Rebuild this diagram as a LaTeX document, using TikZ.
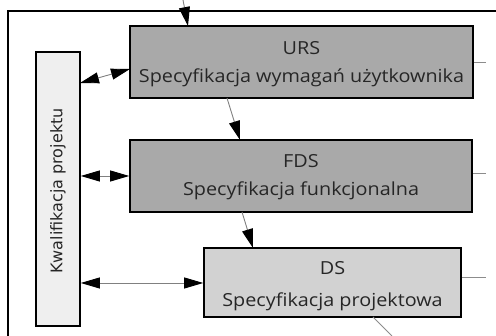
\documentclass[tikz,border=0pt]{standalone}
\usepackage{fontspec}
\setmainfont[FakeStretch=1.1]{Open Sans}
\newfontfamily\kwfont{DejaVu Sans}
\usetikzlibrary{arrows.meta}
\definecolor{ursgray}{HTML}{A9A9A9}
\definecolor{dsgray}{HTML}{D2D2D2}
\definecolor{kwgray}{HTML}{EFEFEF}
\begin{document}
\begin{tikzpicture}[x=1pt,y=1pt,
  box/.style={draw=black,line width=1.6pt,minimum height=72pt,inner sep=0pt},
  lbl/.style={anchor=base,inner sep=0pt,text=black!85,font=\fontsize{18}{22}\selectfont},
  conn/.style={draw=black!45,line width=0.9pt},
  hd/.tip={Triangle[length=19pt,width=11pt,color=black,fill=black]},
  tip/.style={-hd,draw=black!50,line width=0.9pt},
  dtip/.style={hd-hd,draw=black!50,line width=0.9pt}]
\useasboundingbox (0,0) rectangle (496,336);
% frame
\draw[line width=1.2pt] (8,0) -- (8,325) -- (496,325);
% boxes
\node[box,fill=ursgray,minimum width=343pt] (urs) at (301.5,274) {};
\node[box,fill=ursgray,minimum width=342pt] (fds) at (301,160) {};
\node[box,fill=dsgray,minimum width=257pt,minimum height=69pt] (ds) at (332.5,53.5) {};
\node[draw=black,line width=1.6pt,fill=kwgray,minimum width=44pt,minimum height=274pt,inner sep=0pt] (kw) at (58,147) {};
% labels
\node[lbl] (ursA) at ([yshift=7pt]urs.center) {URS};
\node[lbl] (ursB) at ([yshift=-21pt]urs.center) {Specyfikacja wymagań użytkownika};
\node[lbl] (fdsA) at ([yshift=8pt]fds.center) {FDS};
\node[lbl] (fdsB) at ([yshift=-20pt]fds.center) {Specyfikacja funkcjonalna};
\node[lbl] (dsA) at ([yshift=7.5pt]ds.center) {DS};
\node[lbl] (dsB) at ([yshift=-24pt]ds.center) {Specyfikacja projektowa};
\node[rotate=90,text=black!85,font=\kwfont\fontsize{16}{18}\selectfont] (kwt) at ([yshift=-2pt]kw.center) {Kwalifikacja projektu};
% coordinates
\coordinate (topin) at (183,336);
\coordinate (ursR) at (486,274);
\coordinate (fdsR) at (486,163);
\coordinate (dsR) at (486,59);
\coordinate (dsout) at (392,0);
% connectors
\draw[tip] (topin) -- (188,310);
\draw[conn] (urs.east |- ursR) -- (ursR);
\draw[conn] (fds.east |- fdsR) -- (fdsR);
\draw[conn] (ds.east |- dsR) -- (dsR);
\draw[conn] (373,19) -- (dsout);
\draw[dtip] (80,253) -- (130,267);
\draw[dtip] (kw.east |- 0,160) -- (fds.west);
\draw[dtip] (kw.east |- 0,53) -- (ds.west |- 0,53);
\draw[tip] (227,238) -- (240,196);
\draw[tip] (242,124) -- (253,88);
\end{tikzpicture}
\end{document}
